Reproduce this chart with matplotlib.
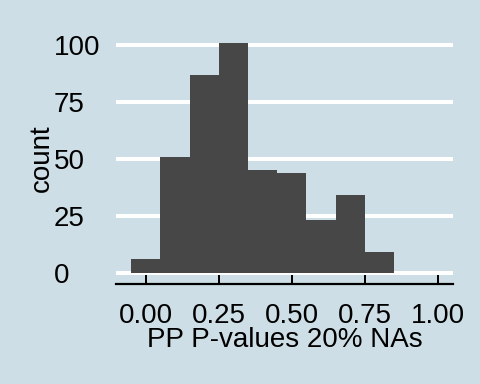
import matplotlib
matplotlib.use("Agg")
import matplotlib.pyplot as plt

BG = '#cddee6'
BAR = '#474747'
FONT = 'Liberation Sans'
FS = 20

# histogram bins (width 0.1) and counts
bin_centers = [0.0, 0.1, 0.2, 0.3, 0.4, 0.5, 0.6, 0.7, 0.8]
counts = [6, 51, 87, 101, 45, 44, 23, 34, 9]
x_ticks = [0.0, 0.25, 0.5, 0.75, 1.0]
x_labels = ['0.00', '0.25', '0.50', '0.75', '1.00']
y_ticks = [0, 25, 50, 75, 100]
y_labels = ['0', '25', '50', '75', '100']

W, H = 480, 384
fig = plt.figure(figsize=(W / 100, H / 100), dpi=100, facecolor=BG)
# panel in pixel terms: x 116..453, y 31.5..284.3
ax = fig.add_axes([116 / W, (H - 284.3) / H, (453 - 116) / W, (284.3 - 31.5) / H])
ax.set_facecolor(BG)

ax.bar(bin_centers, counts, width=0.1, color=BAR, linewidth=0, zorder=2)

ax.set_xlim(-0.1025, 1.0525)
ax.set_ylim(-5.05, 106.05)

ax.set_axisbelow(True)
ax.set_yticks(y_ticks)
ax.set_yticklabels(y_labels, ha='left', fontfamily=FONT, fontsize=FS)
ax.grid(axis='y', color='white', linewidth=2.9, zorder=1)
ax.tick_params(axis='y', length=0, pad=62 * 0.72)

ax.set_xticks(x_ticks)
ax.set_xticklabels(x_labels, fontfamily=FONT, fontsize=FS)
ax.tick_params(axis='x', direction='in', length=13 * 0.72, width=2 * 0.72,
               color='black', pad=19 * 0.72)

for s in ['top', 'left', 'right']:
    ax.spines[s].set_visible(False)
ax.spines['bottom'].set_linewidth(2.2 * 0.72)
ax.spines['bottom'].set_color('black')
ax.spines['bottom'].set_zorder(3)

fig.text(284.5 / W, (H - 347.3) / H, 'PP P-values 20% NAs', ha='center',
         va='baseline', fontfamily=FONT, fontsize=FS)
fig.text(42 / W, (H - 158) / H, 'count', ha='center', va='center',
         rotation=90, fontfamily=FONT, fontsize=FS)

fig.savefig('out.png', dpi=100, facecolor=BG)
